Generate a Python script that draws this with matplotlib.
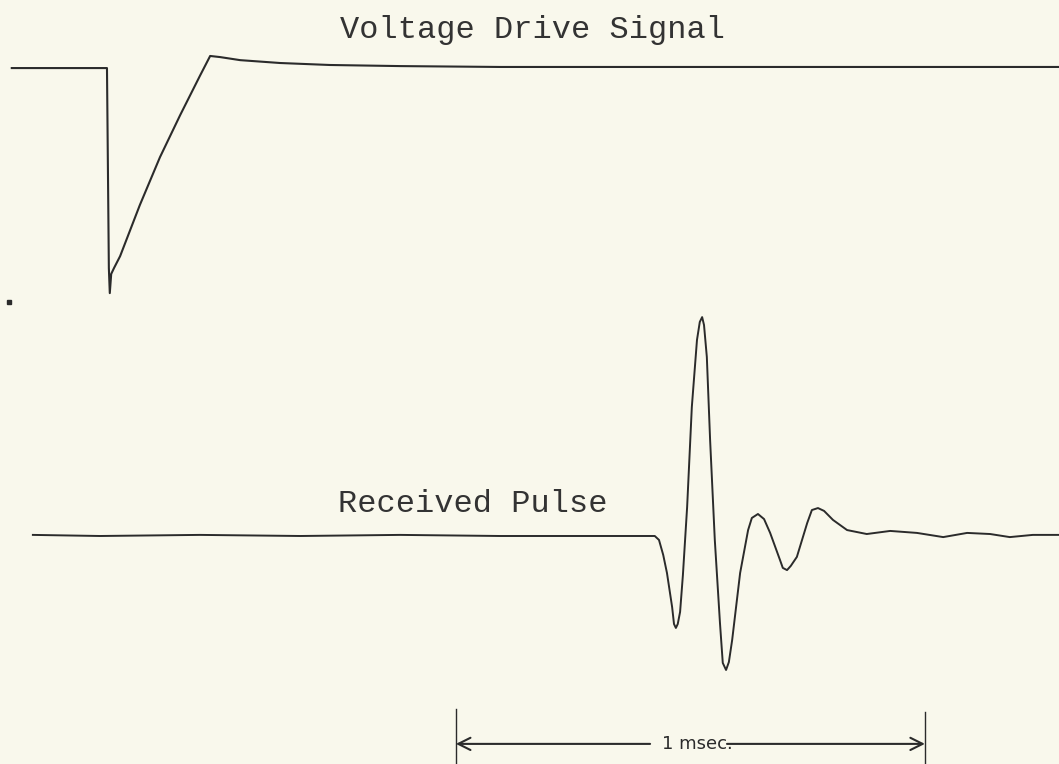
import matplotlib
matplotlib.use("Agg")
import matplotlib.pyplot as plt

# Voltage drive signal (time in msec, amplitude in arbitrary units)
drive_t = [-0.203, 0.0, 0.004, 0.006, 0.009, 0.015, 0.028, 0.070, 0.113, 0.156,
           0.198, 0.220, 0.241, 0.284, 0.369, 0.475, 0.625, 0.838, 2.030]
drive_v = [0.0, 0.0, -0.909, -1.023, -0.936, -0.909, -0.855, -0.623, -0.405, -0.214,
           -0.036, 0.055, 0.050, 0.036, 0.023, 0.014, 0.009, 0.005, 0.005]

# Received pulse
recv_t = [-0.158, -0.015, 0.198, 0.412, 0.625, 0.838, 1.051, 1.168, 1.177, 1.186,
          1.194, 1.205, 1.209, 1.213, 1.217, 1.222, 1.228, 1.237, 1.247, 1.258,
          1.264, 1.269, 1.273, 1.279, 1.286, 1.296, 1.307, 1.313, 1.320, 1.326,
          1.333, 1.350, 1.367, 1.375, 1.388, 1.401, 1.414, 1.435, 1.441, 1.450,
          1.458, 1.471, 1.493, 1.503, 1.516, 1.529, 1.548, 1.578, 1.620, 1.670,
          1.727, 1.783, 1.834, 1.883, 1.925, 1.974, 2.030]
recv_v = [0.005, 0.0, 0.005, 0.0, 0.005, 0.0, 0.0, 0.0, -0.018, -0.086,
          -0.168, -0.323, -0.400, -0.418, -0.400, -0.345, -0.177, 0.132, 0.586, 0.891,
          0.973, 0.995, 0.959, 0.814, 0.436, -0.018, -0.395, -0.577, -0.609, -0.573,
          -0.473, -0.168, 0.027, 0.082, 0.100, 0.077, 0.014, -0.109, -0.145, -0.155,
          -0.136, -0.095, 0.059, 0.118, 0.127, 0.114, 0.073, 0.027, 0.009, 0.023,
          0.014, -0.005, 0.014, 0.009, -0.005, 0.005, 0.005]

# scale bar: 1 msec
bar_start = 0.744
bar_end = 1.744

drive_offset = 2.127
paper = "#f9f8ec"
ink = "#2b2b2b"

fig = plt.figure(figsize=(10.59, 7.64), dpi=100, facecolor=paper)
ax = fig.add_axes([0, 0, 1, 1])
ax.set_facecolor(paper)
ax.set_xlim(-0.2281, 2.0299)
ax.set_ylim(-1.0364, 2.4364)
ax.axis("off")

ax.plot(drive_t, [v + drive_offset for v in drive_v], color=ink, lw=1.5,
        solid_joinstyle="round")
ax.plot(recv_t, recv_v, color=ink, lw=1.4, solid_joinstyle="round")

mono = dict(family="Liberation Mono", fontsize=23, color="#333333")
ax.text(0.497, 2.264, "Voltage Drive Signal", ha="left", va="baseline", **mono)
ax.text(0.4925, 0.109, "Received Pulse", ha="left", va="baseline", **mono)

# stray dot from the scan
ax.plot([-0.208], [1.064], "s", color=ink, ms=3)

# 1 msec scale bar
ax.plot([bar_start, bar_start], [-0.786, -1.1], color=ink, lw=1.0)
ax.plot([bar_end, bar_end], [-0.80, -1.1], color=ink, lw=1.0)
arrow = dict(arrowstyle="->", color=ink, lw=1.5, mutation_scale=22,
             shrinkA=0, shrinkB=0)
ax.annotate("", xy=(bar_start, -0.945), xytext=(1.158, -0.945), arrowprops=arrow)
ax.annotate("", xy=(bar_end, -0.945), xytext=(1.322, -0.945), arrowprops=arrow)
ax.text(1.258, -0.945, "1 msec.", ha="center", va="center",
        family="DejaVu Sans", fontsize=13, color=ink)

fig.savefig("out.png", dpi=100, facecolor=paper)
